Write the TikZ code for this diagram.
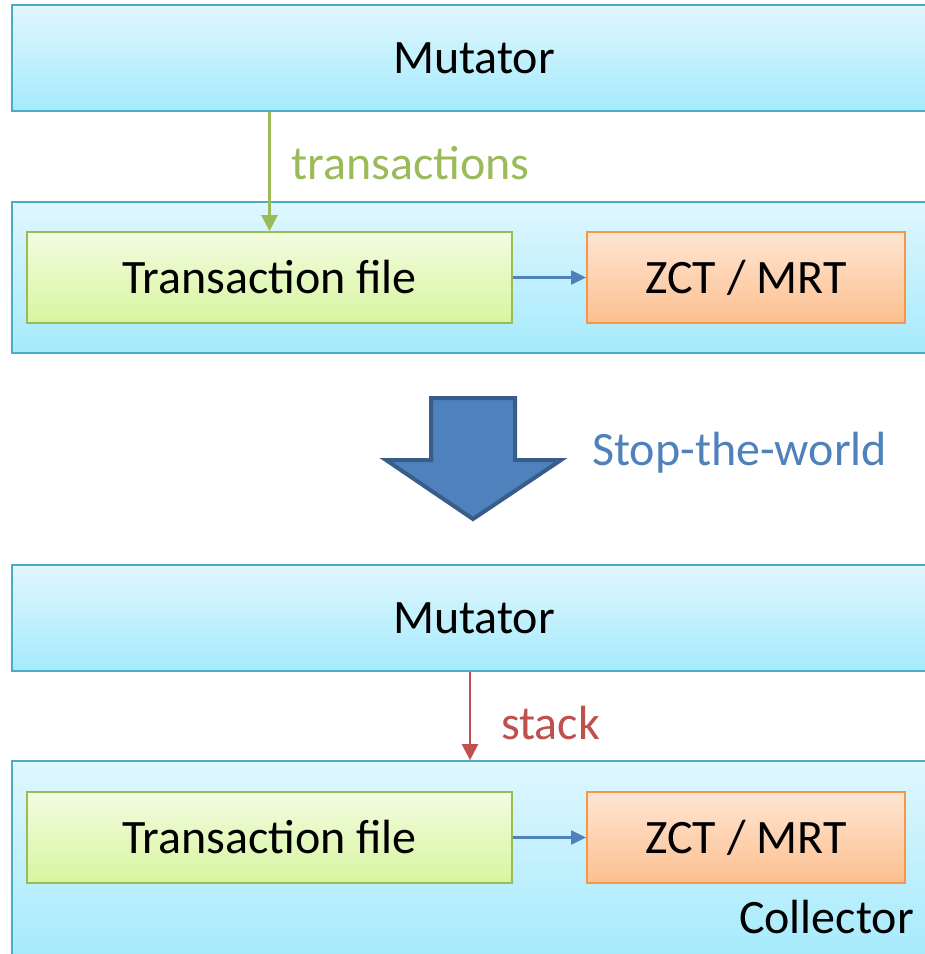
\documentclass[tikz,border=0pt]{standalone}
\usepackage{fontspec}
\setmainfont{Carlito}
\usetikzlibrary{arrows.meta,shadings}
\definecolor{laytop}{HTML}{E0F7FE}
\definecolor{laybot}{HTML}{A5EAFC}
\definecolor{laybd}{HTML}{4BACC6}
\definecolor{grtop}{HTML}{F2FCE0}
\definecolor{grbot}{HTML}{D7F5A0}
\definecolor{grbd}{HTML}{9BBB59}
\definecolor{ortop}{HTML}{FEE6D4}
\definecolor{orbot}{HTML}{FDBF8E}
\definecolor{orbd}{HTML}{F79646}
\definecolor{bluearr}{HTML}{4F81BD}
\definecolor{bluebd}{HTML}{385D8A}
\definecolor{redarr}{HTML}{C0504D}
\tikzset{
  bigtext/.style={font=\fontsize{48}{58}\selectfont},
  layer/.style={draw=laybd, line width=1.8pt, top color=laytop, bottom color=laybot,
    inner sep=0pt, minimum width=924pt, bigtext},
  tfbox/.style={draw=grbd, line width=1.8pt, top color=grtop, bottom color=grbot,
    inner sep=0pt, minimum width=485pt, minimum height=91pt, bigtext},
  zctbox/.style={draw=orbd, line width=1.8pt, top color=ortop, bottom color=orbot,
    inner sep=0pt, minimum width=318pt, minimum height=91pt, bigtext},
  smallarr/.style={draw=bluearr, line width=2.2pt, -{Triangle[length=15pt,width=14pt]}},
  grarr/.style={draw=grbd, line width=2.5pt, -{Triangle[length=16pt,width=16pt]}},
  rdarr/.style={draw=redarr, line width=2.5pt, -{Triangle[length=16pt,width=16pt]}},
  lbl/.style={bigtext, inner sep=0pt, anchor=base west},
}
\begin{document}
\begin{tikzpicture}[x=1pt,y=-1pt]
\useasboundingbox (0,0) rectangle (925,954);
\clip (0,0) rectangle (925,954);
% top half
\node[layer, minimum height=106pt] (mut1) at (474,58) {Mutator};
\node[layer, minimum height=151pt] (col1) at (474,277.5) {};
\node[tfbox] (tf1) at (269.5,277.5) {Transaction file};
\node[zctbox] (zct1) at (746,277.5) {ZCT / MRT};
\draw[smallarr] (tf1.east) -- (zct1.west);
\draw[grarr] (tf1.north |- mut1.south) -- (tf1.north);
\node[lbl, text=grbd] (ltrans) at (291,179) {transactions};
% big arrow
\draw[draw=bluebd, fill=bluearr, line width=4pt]
  (431,398) -- (515,398) -- (515,460) -- (561,460) -- (473,519) -- (386,460) -- (431,460) -- cycle;
\node[lbl, text=bluearr] (lstw) at (592,465) {Stop-the-world};
% bottom half
\node[layer, minimum height=106pt] (mut2) at (474,618) {Mutator};
\node[layer, minimum height=197pt] (col2) at (474,859.5) {};
\node[tfbox] (tf2) at (269.5,837.5) {Transaction file};
\node[zctbox] (zct2) at (746,837.5) {ZCT / MRT};
\draw[smallarr] (tf2.east) -- (zct2.west);
\draw[rdarr] ([xshift=-4pt]mut2.south) -- ([xshift=-4pt]col2.north);
\node[lbl, text=redarr] (lstack) at (501,739) {stack};
\node[bigtext, inner sep=0pt, anchor=base east] (lcol) at (914,933) {Collector};
\end{tikzpicture}
\end{document}
